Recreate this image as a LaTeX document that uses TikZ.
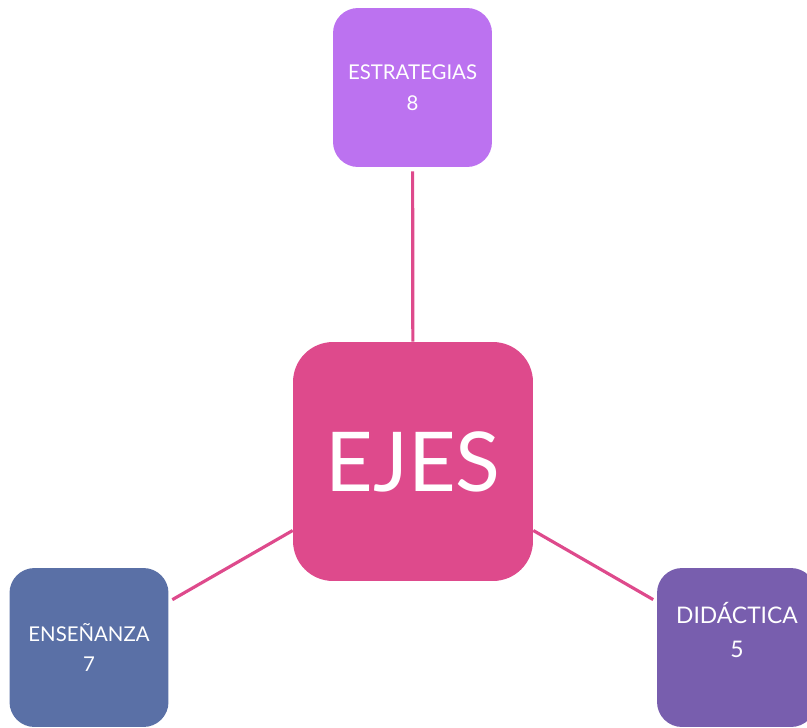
\documentclass[tikz,border=0pt]{standalone}
\usepackage{fontspec}
\setmainfont{Lato}
\usetikzlibrary{positioning}
\definecolor{ejespink}{HTML}{DE4A8C}
\definecolor{estpurple}{HTML}{BC72F0}
\definecolor{ensblue}{HTML}{5A70A6}
\definecolor{didviolet}{HTML}{785EAE}
\begin{document}
\begin{tikzpicture}[x=0.02cm,y=0.02cm,
  box/.style={rectangle,rounded corners=0.5cm,minimum width=3.18cm,minimum height=3.18cm,text=white,align=center,font=\fontsize{11.6}{17.6}\selectfont},
  link/.style={draw=ejespink,line width=1.8pt,shorten <=0.08cm}]
\useasboundingbox (0,0) rectangle (807,-727);
\node[rectangle,rounded corners=0.8cm,minimum width=4.8cm,minimum height=4.78cm,fill=ejespink,text=white,font=\fontsize{47}{56}\selectfont] (ejes) at (413,-461.5) {EJES};
\node[box,fill=estpurple] (est) at (412.5,-87.5) {ESTRATEGIAS\\8};
\node[box,fill=ensblue] (ens) at (89,-647.5) {ENSEÑANZA\\7};
\node[box,fill=didviolet] (did) at (736.5,-647.5) {};
\node[text=white,align=center,font=\fontsize{13}{19.8}\selectfont] (didtext) at (737,-630) {DIDÁCTICA\\5};

\draw[link] (est) -- (ejes);
\draw[link] (ens) -- (ejes);
\draw[link] (did) -- (ejes);
\end{tikzpicture}
\end{document}
